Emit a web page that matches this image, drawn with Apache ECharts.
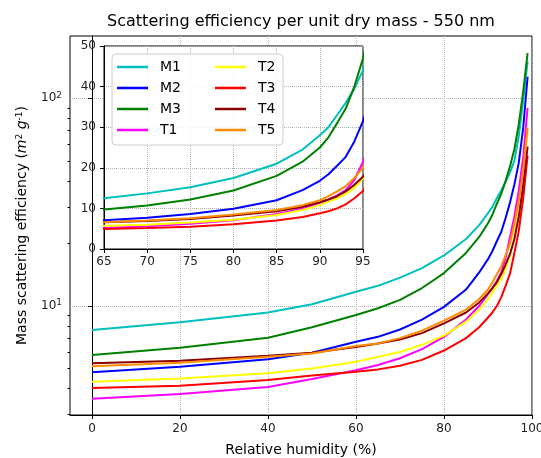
<!DOCTYPE html>
<html><head><meta charset="utf-8">
<script src="https://cdn.jsdelivr.net/npm/echarts@6/dist/echarts.min.js"></script>
<style>html,body{margin:0;padding:0;background:#fff}#c{width:541px;height:458px}</style>
</head><body><div id="c"></div>
<script>
const rh = [0,20,40,50,60,65,70,75,80,85,88,90,91,92,93,94,95,96,97,98,99];
const M1 = [7.66,8.35,9.29,10.2,11.7,12.5,13.7,15.2,17.5,21,24.5,28,30,33,36,39.5,44,50,66,98,150];
const M2 = [4.80,5.10,5.54,5.95,6.73,7.1,7.7,8.6,9.9,12,14.5,16.8,18.4,20.5,22.7,26.5,31.5,38.5,49,72,127];
const M3 = [5.81,6.30,7.03,7.9,9.05,9.75,10.7,12.2,14.4,18,21.5,25,27.5,31,34.6,40,47,57,75,108,165];
const T1 = [3.57,3.77,4.07,4.45,4.9,5.2,5.6,6.2,7.1,8.6,10,11.4,12.2,13.2,14.5,17,21.5,27,36,52,90];
const T2 = [4.32,4.47,4.74,5.0,5.39,5.7,6.0,6.5,7.2,8.4,9.6,10.8,11.6,12.5,13.5,15,17.4,22,29,43,68];
const T3 = [4.03,4.13,4.40,4.62,4.82,4.95,5.15,5.5,6.1,7.0,7.9,8.8,9.3,10.0,11.0,12.5,14.3,18,23,33,53];
const T4 = [5.30,5.45,5.75,5.95,6.35,6.6,6.9,7.4,8.25,9.3,10.4,11.5,12.2,13.0,14.2,15.8,17.8,21,27,38,58.5];
const T5 = [5.13,5.33,5.70,5.9,6.42,6.6,7.0,7.6,8.5,9.6,10.8,12.0,13,14.2,15.5,17.5,20,25,32,45,72];
const seriesNames = ['M1','M2','M3','T1','T2','T3','T4','T5'];
const seriesValues = [M1,M2,M3,T1,T2,T3,T4,T5];
const colors = ['#00bfbf','#0000ff','#008000','#ff00ff','#ffff00','#ff0000','#8b0000','#ff8c00'];
const xTicksMain = [0,20,40,60,80,100];
const yMajorMain = [10,100];
const yMinorMain = [3,4,5,6,7,8,9,20,30,40,50,60,70,80,90];

const FONT = 'DejaVu Sans';
const chart = echarts.init(document.getElementById('c'));
const series = [];
seriesNames.forEach((n,i)=>{
  const d = rh.map((x,j)=>[x, seriesValues[i][j]]);
  series.push({name:n,type:'line',xAxisIndex:0,yAxisIndex:0,data:d,symbol:'none',
    lineStyle:{width:2,color:colors[i]},itemStyle:{color:colors[i]},z:2});
  series.push({name:n,type:'line',xAxisIndex:1,yAxisIndex:2,data:d,symbol:'none',clip:true,
    lineStyle:{width:2,color:colors[i]},itemStyle:{color:colors[i]},z:8});
});
const gridLine = {show:true,lineStyle:{type:'dotted',color:'#b0b0b0',width:1}};
const supFmt = v => '10{s|' + Math.round(Math.log10(v)) + '}';
const legendCommon = {orient:'vertical',top:54,itemWidth:31,itemHeight:2.5,itemGap:7,icon:'rect',
  padding:[6,5,6,5],z:20,
  textStyle:{fontSize:14,fontFamily:FONT,color:'#000',padding:[0,0,0,7],lineHeight:14}};
chart.setOption({
  animation:false,
  backgroundColor:'#fff',
  title:{text:'Scattering efficiency per unit dry mass - 550 nm',left:301,top:14,padding:0,textAlign:'center',
    textStyle:{fontSize:16,fontWeight:'normal',fontFamily:FONT,color:'#000'}},
  graphic:[{type:'rect',shape:{x:112,y:54,width:171,height:91,r:4},
    style:{fill:'rgba(255,255,255,0.85)',stroke:'#cccccc',lineWidth:1},z:15}],
  legend:[Object.assign({},legendCommon,{left:112,data:['M1','M2','M3','T1']}),
          Object.assign({},legendCommon,{left:210,data:['T2','T3','T4','T5']})],
  grid:[
    {left:70,right:9,top:36,bottom:43,show:true,borderColor:'#000',borderWidth:1,backgroundColor:'#fff',z:0,
      containLabel:false,outerBoundsMode:'none'},
    {left:104,top:46,width:259,height:203,show:true,borderColor:'#000',borderWidth:1,backgroundColor:'#fff',z:5,
      containLabel:false,outerBoundsMode:'none'}
  ],
  xAxis:[
    {type:'value',gridIndex:0,min:-5,max:100,
      axisLine:{show:true,lineStyle:{color:'#000'}},
      axisTick:{show:true,length:4,customValues:xTicksMain,lineStyle:{color:'#000'}},
      axisLabel:{customValues:xTicksMain,fontSize:12,fontFamily:FONT,color:'#222',margin:8},
      splitLine:gridLine,
      name:'Relative humidity (%)',nameLocation:'middle',nameGap:28,
      nameTextStyle:{fontSize:14,fontFamily:FONT,color:'#000'}},
    {type:'value',gridIndex:1,min:65,max:95,interval:5,z:6,
      axisLine:{show:true,lineStyle:{color:'#000'}},
      axisTick:{show:true,length:4,lineStyle:{color:'#000'}},
      axisLabel:{fontSize:12,fontFamily:FONT,color:'#222',margin:7},
      splitLine:gridLine}
  ],
  yAxis:[
    {type:'log',gridIndex:0,min:2.985,max:199.5,logBase:10,position:'left',
      axisLine:{show:true,lineStyle:{color:'#000'}},
      axisTick:{show:true,length:4,customValues:yMajorMain,lineStyle:{color:'#000'}},
      axisLabel:{customValues:yMajorMain,formatter:supFmt,fontSize:12,fontFamily:FONT,color:'#222',margin:8,
        rich:{s:{fontSize:9,fontFamily:FONT,color:'#222',verticalAlign:'top',padding:[0,0,6,0]}}},
      splitLine:gridLine,
      name:'Mass scattering efficiency ({i|m}{s|2} {i|g}{s|-1})',nameLocation:'middle',nameGap:40,nameRotate:90,
      nameTextStyle:{fontSize:14,fontFamily:FONT,color:'#000',
        rich:{i:{fontSize:14,fontStyle:'italic',fontFamily:FONT,color:'#000'},
              s:{fontSize:9,fontFamily:FONT,color:'#000',verticalAlign:'top',padding:[0,0,6,0]}}}},
    {type:'log',gridIndex:0,min:2.985,max:199.5,logBase:10,position:'left',offset:0,
      axisLine:{show:false},
      axisTick:{show:true,length:2.5,customValues:yMinorMain,lineStyle:{color:'#000'}},
      axisLabel:{show:false},splitLine:{show:false}},
    {type:'value',gridIndex:1,min:0,max:50,interval:10,z:6,
      axisLine:{show:true,lineStyle:{color:'#000'}},
      axisTick:{show:true,length:4,lineStyle:{color:'#000'}},
      axisLabel:{fontSize:12,fontFamily:FONT,color:'#222',margin:8},
      splitLine:gridLine}
  ],
  series:series
});
</script></body></html>
